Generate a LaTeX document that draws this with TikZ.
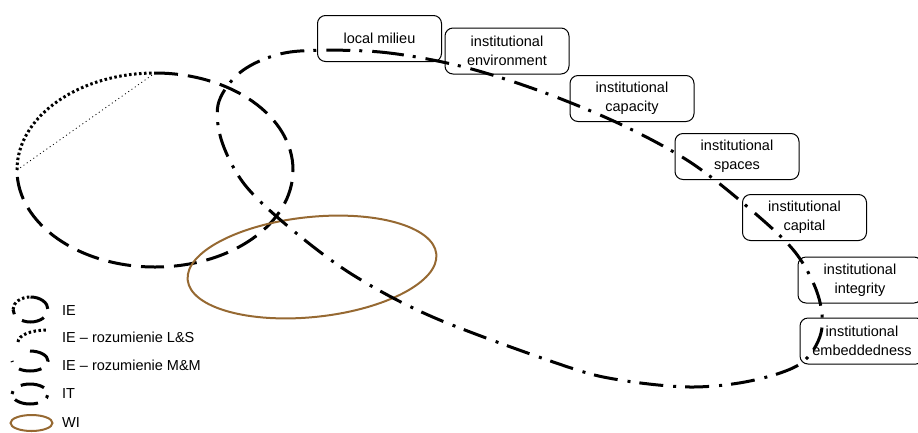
\documentclass[tikz,border=0pt]{standalone}
\usepackage{fontspec}
\setmainfont{Liberation Sans}
\definecolor{wibrown}{RGB}{150,105,50}
\begin{document}
\begin{tikzpicture}[x=1pt,y=-1pt,
  box/.style={draw, rounded corners=8pt, line width=1pt, minimum width=124pt, minimum height=46pt, align=center, inner sep=2pt, font=\fontsize{14.5}{19}\selectfont},
  lab/.style={anchor=base west, inner sep=0pt, font=\fontsize{14.5}{18}\selectfont},
  iedash/.style={line width=3pt, dash pattern=on 23pt off 10pt},
  iedot/.style={line width=3pt, dash pattern=on 2.5pt off 2.5pt},
  itline/.style={line width=3pt, dash pattern=on 24pt off 9pt on 3pt off 10pt},
  chord/.style={line width=0.8pt, dash pattern=on 1pt off 3pt},
  wi/.style={draw=wibrown, line width=2pt}]
\useasboundingbox (0,0) rectangle (918,432);
\clip (0,0) rectangle (918,432);

% IE ellipse (large)
\coordinate (ieL) at (17,170);
\coordinate (ieT) at (155,73);
\draw[iedot] (ieL) arc[start angle=180, end angle=270, x radius=138, y radius=97];
\draw[iedash] (ieT) arc[start angle=270, end angle=540, x radius=138, y radius=97];
\draw[chord] (ieL) -- (ieT);

% WI ellipse
\draw[wi, rotate around={6:(312,267)}] (312,267) ellipse[x radius=125, y radius=50];

% IT loop
\draw[itline] plot[smooth cycle, tension=0.55] coordinates {
 (300,51) (380,52) (460,66) (540,91) (620,124) (690,162) (750,209) (795,252)
 (818,295) (821,333) (800,364) (750,381) (690,387) (620,380) (565,366)
 (435,318) (353,275) (290,228) (245,185) (222,142) (218,105) (235,77) (262,60)};

% boxes
\node[box] (lm) at (379.5,38.5) {local milieu};
\node[box] (env) at (507,51) {institutional\\environment};
\node[box] (cap) at (632,98.5) {institutional\\capacity};
\node[box] (spa) at (737,156.5) {institutional\\spaces};
\node[box] (capi) at (804.5,217.5) {institutional\\capital};
\node[box] (integ) at (860,280) {institutional\\integrity};
\node[box] (emb) at (862,341) {institutional\\embeddedness};

% legend icons
\coordinate (li1L) at (13,309.5);
\coordinate (li1T) at (30.5,297);
\draw[iedot] (li1L) arc[start angle=180, end angle=270, x radius=17.5, y radius=12.5];
\draw[iedash] (li1T) arc[start angle=270, end angle=540, x radius=17.5, y radius=12.5];
\coordinate (li2L) at (18,342);
\draw[iedot] (li2L) arc[start angle=180, end angle=270, x radius=29, y radius=12];
\coordinate (li3T) at (30,351);
\draw[iedash] (li3T) arc[start angle=270, end angle=540, x radius=18, y radius=10];
\coordinate (li4L) at (12,394);
\draw[itline, dash phase=33pt] (li4L) arc[start angle=180, end angle=540, x radius=18, y radius=10];
\draw[wi] (31.5,423) ellipse[x radius=21, y radius=8];

% legend labels
\node[lab] (t1) at (62,315) {IE};
\node[lab] (t2) at (62,342) {IE – rozumienie L\&S};
\node[lab] (t3) at (62,370) {IE – rozumienie M\&M};
\node[lab] (t4) at (62,398) {IT};
\node[lab] (t5) at (62,427) {WI};
\end{tikzpicture}
\end{document}
